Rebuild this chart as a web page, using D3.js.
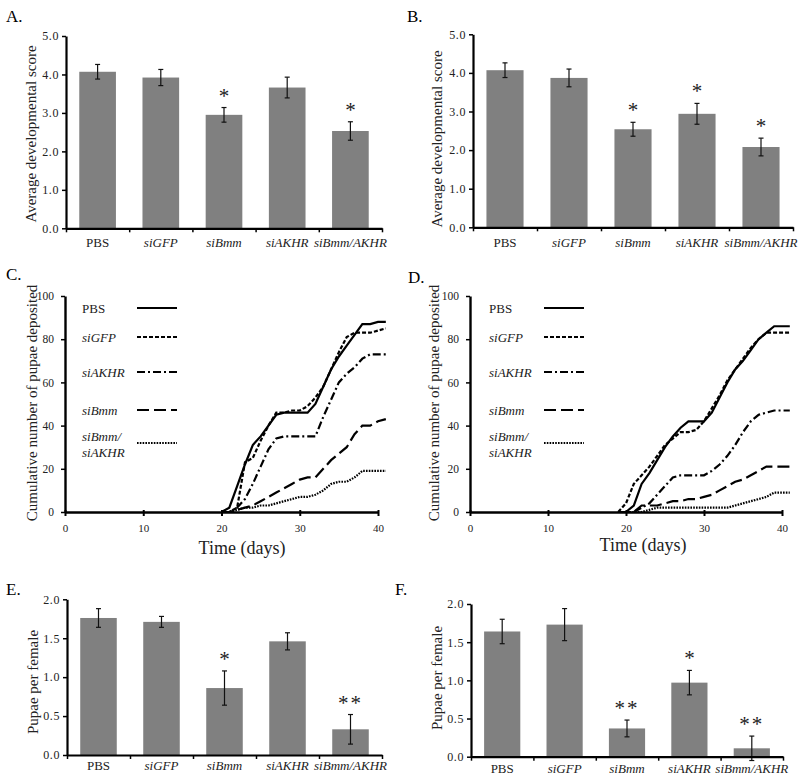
<!DOCTYPE html>
<html>
<head>
<meta charset="utf-8">
<script src="https://cdn.jsdelivr.net/npm/d3@7"></script>
<style>
  body { margin: 0; background: #fff; }
  svg, svg text { font-family: "Liberation Serif", "DejaVu Serif", "Times New Roman", serif; }
  .axis path, .axis line { stroke: #000; }
  .axis text { fill: #222; }
</style>
</head>
<body>
<svg id="chart" width="800" height="779"></svg>
<script>
// Bar panels (A, B: developmental score; E, F: pupae per female)
const categories = ['PBS', 'siGFP', 'siBmm', 'siAKHR', 'siBmm/AKHR'];
const scoreA = [4.07, 3.92, 2.95, 3.66, 2.53];
const scoreAErr = [0.19, 0.21, 0.19, 0.27, 0.24];
const scoreAStars = ['', '', '*', '', '*'];
const scoreB = [4.07, 3.87, 2.54, 2.94, 2.08];
const scoreBErr = [0.19, 0.23, 0.18, 0.27, 0.23];
const scoreBStars = ['', '', '*', '*', '*'];
const pupaeE = [1.76, 1.71, 0.86, 1.46, 0.33];
const pupaeEErr = [0.12, 0.07, 0.22, 0.11, 0.19];
const pupaeEStars = ['', '', '*', '', '**'];
const pupaeF = [1.64, 1.73, 0.37, 0.97, 0.11];
const pupaeFErr = [0.16, 0.21, 0.11, 0.16, 0.16];
const pupaeFStars = ['', '', '**', '*', '**'];
const scoreTicks = [0, 1, 2, 3, 4, 5];
const pupaeTicks = [0, 0.5, 1, 1.5, 2];

// Line panels (C, D: cumulative pupae deposited)
const dayTicks = [0, 10, 20, 30, 40];
const countTicks = [0, 20, 40, 60, 80, 100];
const seriesNames = ['PBS', 'siGFP', 'siAKHR', 'siBmm', 'siBmm/siAKHR'];
const legendLines = [['PBS'], ['siGFP'], ['siAKHR'], ['siBmm'], ['siBmm/', 'siAKHR']];
const daysC = [20, 21, 22, 23, 24, 25, 26, 27, 28, 29, 30, 31, 32, 33, 34, 35, 36, 37, 38, 39, 40, 41];
const cPBS    = [0, 2, 12, 22, 31, 35, 40, 45, 46, 46, 46, 46, 50, 58, 66, 72, 77, 82, 87, 87, 88, 88];
const cGFP    = [0, 0, 2, 23, 25, 33, 40, 46, 46, 47, 47, 49, 53, 58, 66, 74, 81, 83, 83, 83, 84, 85];
const cAKHR   = [0, 0, 2, 6, 13, 21, 29, 34, 35, 35, 35, 35, 35, 44, 52, 60, 64, 67, 71, 73, 73, 73];
const cBmm    = [0, 0, 1, 2, 3, 5, 7, 9, 11, 13, 15, 16, 16, 20, 24, 27, 30, 36, 40, 40, 42, 43];
const cBmmAKHR = [0, 0, 1, 2, 2, 3, 3, 4, 5, 6, 7, 7, 8, 10, 13, 14, 14, 16, 19, 19, 19, 19];
const daysD = [19, 20, 21, 22, 23, 24, 25, 26, 27, 28, 29, 30, 31, 32, 33, 34, 35, 36, 37, 38, 39, 40, 41];
const dPBS    = [0, 0, 3, 13, 18, 24, 30, 35, 39, 42, 42, 42, 46, 53, 60, 66, 70, 75, 80, 83, 86, 86, 86];
const dGFP    = [0, 4, 13, 17, 21, 26, 31, 34, 37, 37, 38, 42, 48, 54, 61, 66, 71, 76, 80, 83, 83, 83, 83];
const dAKHR   = [0, 0, 0, 2, 4, 8, 12, 16, 17, 17, 17, 17, 19, 22, 26, 31, 37, 42, 45, 46, 47, 47, 47];
const dBmm    = [0, 0, 0, 3, 3, 3, 4, 5, 5, 6, 6, 7, 8, 10, 12, 14, 15, 17, 19, 21, 21, 21, 21];
const dBmmAKHR = [0, 0, 0, 0, 1, 2, 2, 2, 2, 2, 2, 2, 2, 2, 2, 3, 4, 5, 6, 7, 9, 9, 9];
const dashes = ['', '4,2', '8,3,2,3', '12,5', '1.6,1.2'];

const SERIF = '"Liberation Serif", "DejaVu Serif", serif';
const svg = d3.select('#chart').attr('font-family', SERIF);

function panelLabel(text, x, y) {
  svg.append('text')
    .attr('x', x).attr('y', y)
    .style('font-size', '17px')
    .style('font-family', SERIF)
    .text(text);
}

function yTitle(text, x, y) {
  svg.append('text')
    .attr('transform', `translate(${x},${y}) rotate(-90)`)
    .attr('text-anchor', 'middle')
    .style('font-size', '15px')
    .style('font-family', SERIF)
    .style('fill', '#222')
    .text(text);
}

function barPanel(o) {
  const g = svg.append('g');
  const x = d3.scaleBand()
        .domain(categories)
        .range([o.x0, o.x1])
        .paddingInner(0.42)
        .paddingOuter(0.21);
  const y = d3.scaleLinear()
        .domain([0, o.yMax])
        .range([o.y0, o.yTop]);
  const rows = categories.map((c, i) => ({c, v: o.values[i], e: o.errs[i], s: o.stars[i]}));
  // Bars
  g.selectAll('rect')
    .data(rows)
    .join('rect')
    .attr('x', d => x(d.c))
    .attr('y', d => y(d.v))
    .attr('width', x.bandwidth())
    .attr('height', d => y(0) - y(d.v))
    .style('fill', '#808080');
  // Error bars
  const eb = g.selectAll('g.err')
        .data(rows)
        .join('g')
        .attr('class', 'err')
        .attr('transform', d => `translate(${x(d.c) + x.bandwidth() / 2},0)`);
  eb.append('line')
    .attr('y1', d => y(d.v + d.e)).attr('y2', d => y(d.v - d.e))
    .style('stroke', '#111').style('stroke-width', 1.2);
  eb.append('line')
    .attr('x1', -2.5).attr('x2', 2.5)
    .attr('y1', d => y(d.v + d.e)).attr('y2', d => y(d.v + d.e))
    .style('stroke', '#111').style('stroke-width', 1.2);
  eb.append('line')
    .attr('x1', -2.5).attr('x2', 2.5)
    .attr('y1', d => y(d.v - d.e)).attr('y2', d => y(d.v - d.e))
    .style('stroke', '#111').style('stroke-width', 1.2);
  // Significance stars
  eb.append('text')
    .attr('y', d => y(d.v + d.e) - 5)
    .attr('text-anchor', 'middle')
    .style('font-size', '21px')
    .style('font-family', SERIF)
    .style('letter-spacing', d => d.s.length > 1 ? '2px' : null)
    .style('fill', '#222')
    .text(d => d.s);
  // Y axis
  const ya = g.append('g')
        .attr('class', 'axis')
        .attr('transform', `translate(${o.x0},0)`)
        .call(d3.axisLeft(y)
              .tickValues(o.ticks)
              .tickFormat(d3.format('.1f'))
              .tickSize(4)
              .tickSizeOuter(0)
              .tickPadding(3));
  ya.attr('font-family', SERIF);
  ya.select('.domain').style('stroke-width', 2.2);
  ya.selectAll('.tick line').style('stroke-width', 1.5);
  ya.selectAll('text').style('font-size', '12px').style('letter-spacing', '0.6px')
    .style('font-family', SERIF);
  // X axis: ticks on category boundaries
  const xb = d3.scaleLinear().domain([0, categories.length]).range([o.x0, o.x1]);
  const xa = g.append('g')
        .attr('class', 'axis')
        .attr('transform', `translate(0,${o.y0})`)
        .call(d3.axisBottom(xb)
              .tickValues(d3.range(categories.length + 1))
              .tickFormat('')
              .tickSize(4)
              .tickSizeOuter(0));
  xa.select('.domain').style('stroke-width', 2.2);
  xa.selectAll('.tick line').style('stroke-width', 1.5);
  // Category labels
  const xl = g.append('g')
        .attr('class', 'axis')
        .attr('transform', `translate(0,${o.y0})`)
        .call(d3.axisBottom(x).tickSize(0).tickPadding(o.labelPad));
  xl.attr('font-family', SERIF);
  xl.select('.domain').remove();
  xl.selectAll('text')
    .style('font-size', '13px')
    .style('font-family', SERIF)
    .style('font-style', d => d === 'PBS' ? 'normal' : 'italic');
  yTitle(o.title, o.titleX, o.titleY);
}

function linePanel(o) {
  const g = svg.append('g');
  const x = d3.scaleLinear().domain([0, 40]).range([o.x0, o.x40]);
  const y = d3.scaleLinear().domain([0, 100]).range([o.y0, o.y100]);
  const line = d3.line()
        .x(d => x(d[0]))
        .y(d => y(d[1]));
  const data = o.series.map(s => s.map((v, i) => [o.days[i], v]));
  g.append('g')
    .selectAll('path')
    .data(data)
    .join('path')
    .attr('d', line)
    .style('fill', 'none')
    .style('stroke', '#000')
    .style('stroke-width', 2.2)
    .style('stroke-dasharray', (_, i) => dashes[i] || null);
  // Axes
  const ya = g.append('g')
        .attr('class', 'axis')
        .attr('transform', `translate(${o.x0},0)`)
        .call(d3.axisLeft(y)
              .tickValues(countTicks)
              .tickSize(4)
              .tickSizeOuter(0)
              .tickPadding(7));
  ya.attr('font-family', SERIF);
  ya.select('.domain').style('stroke-width', 2.4);
  ya.selectAll('.tick line').style('stroke-width', 1.5);
  ya.selectAll('text').style('font-size', '11.5px').style('font-family', SERIF);
  const xa = g.append('g')
        .attr('class', 'axis')
        .attr('transform', `translate(0,${o.y0})`)
        .call(d3.axisBottom(x)
              .tickValues(dayTicks)
              .tickSize(4)
              .tickSizeOuter(0)
              .tickPadding(8));
  xa.attr('font-family', SERIF);
  xa.select('.domain').style('stroke-width', 2.4);
  xa.selectAll('.tick line').style('stroke-width', 2).attr('y1', -2);
  xa.selectAll('text').style('font-size', '11px').style('font-family', SERIF);
  // Legend
  const rowsY = [308, 337, 372, 410, 443];
  const lg = g.append('g')
        .selectAll('g')
        .data(legendLines)
        .join('g')
        .attr('transform', (_, i) => `translate(0,${rowsY[i]})`);
  lg.append('line')
    .attr('x1', o.legX + 55).attr('x2', o.legX + 95)
    .style('stroke', '#000')
    .style('stroke-width', 2.2)
    .style('stroke-dasharray', (_, i) => dashes[i] || null);
  lg.append('text')
    .style('font-size', '13px')
    .style('font-family', SERIF)
    .style('fill', '#222')
    .style('font-style', d => d[0] === 'PBS' ? 'normal' : 'italic')
    .selectAll('tspan')
    .data(d => d)
    .join('tspan')
    .attr('x', o.legX)
    .attr('y', (d, i, n) => n.length > 1 ? (i === 0 ? -2 : 14) : 4.5)
    .text(d => d);
  svg.append('text')
    .attr('x', o.timeX).attr('y', o.timeY)
    .attr('text-anchor', 'middle')
    .style('font-size', '18px')
    .style('font-family', SERIF)
    .style('fill', '#222')
    .text('Time (days)');
  yTitle('Cumulative number of pupae deposited', o.titleX, 403);
}

barPanel({x0: 66, x1: 382, y0: 228.3, yTop: 36, yMax: 5, ticks: scoreTicks,
          values: scoreA, errs: scoreAErr, stars: scoreAStars, labelPad: 9,
          title: 'Average developmental score', titleX: 36, titleY: 134});
barPanel({x0: 473, x1: 793, y0: 227.3, yTop: 34.3, yMax: 5, ticks: scoreTicks,
          values: scoreB, errs: scoreBErr, stars: scoreBStars, labelPad: 10,
          title: 'Average developmental score', titleX: 442, titleY: 139});
barPanel({x0: 67, x1: 382, y0: 755, yTop: 599.3, yMax: 2, ticks: pupaeTicks,
          values: pupaeE, errs: pupaeEErr, stars: pupaeEStars, labelPad: 6,
          title: 'Pupae per female', titleX: 38, titleY: 682});
barPanel({x0: 471, x1: 783, y0: 756.7, yTop: 604, yMax: 2, ticks: pupaeTicks,
          values: pupaeF, errs: pupaeFErr, stars: pupaeFStars, labelPad: 7,
          title: 'Pupae per female', titleX: 442, titleY: 678});

linePanel({x0: 65, x40: 378, y0: 512, y100: 296, days: daysC,
           series: [cPBS, cGFP, cAKHR, cBmm, cBmmAKHR],
           legX: 82, timeX: 242, timeY: 554, titleX: 37});
linePanel({x0: 470, x40: 782, y0: 512, y100: 296, days: daysD,
           series: [dPBS, dGFP, dAKHR, dBmm, dBmmAKHR],
           legX: 489, timeX: 643, timeY: 551, titleX: 439});

panelLabel('A.', 6, 22);
panelLabel('B.', 407, 22);
panelLabel('C.', 6, 280);
panelLabel('D.', 408, 283);
panelLabel('E.', 6, 595);
panelLabel('F.', 395, 595);
</script>
</body>
</html>
